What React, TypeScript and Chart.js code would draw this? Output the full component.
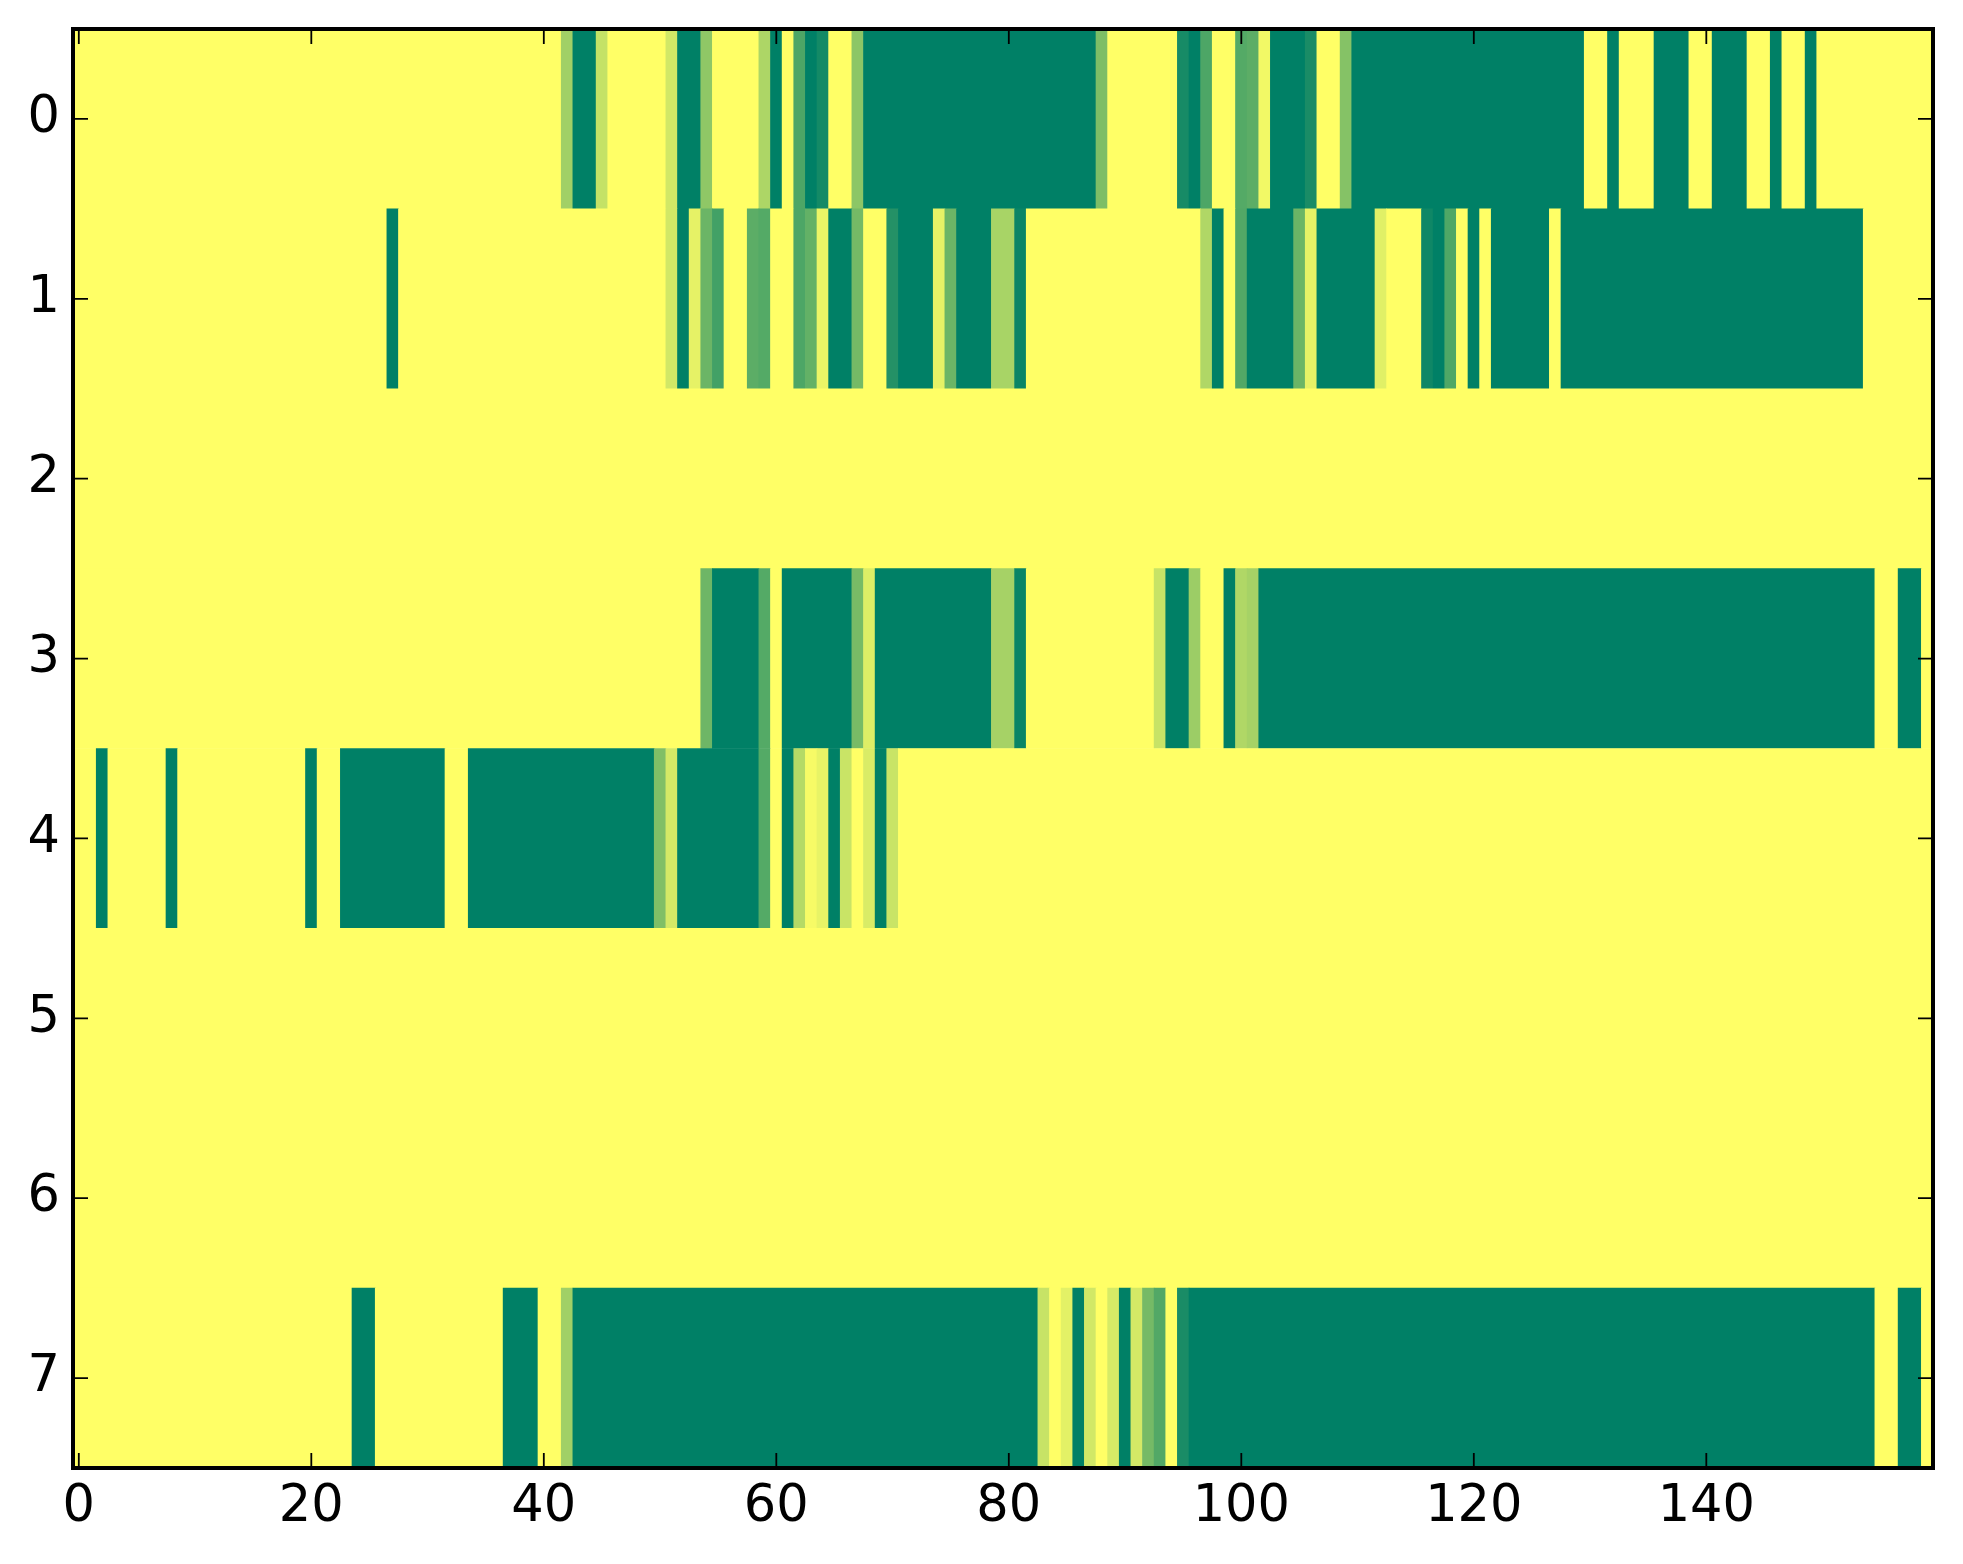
import React, { useEffect, useRef } from "react";
import { Chart, registerables } from "chart.js";

Chart.register(...registerables);

// Tick labels
const xTickValues = [0, 20, 40, 60, 80, 100, 120, 140];
const yTickValues = [0, 1, 2, 3, 4, 5, 6, 7];
const yTickLabels = ["0", "1", "2", "3", "4", "5", "6", "7"];

// Heatmap rows (160 columns each, values 0..1 mapped through the "summer" colormap)
const row0 = [
  1, 1, 1, 1, 1, 1, 1, 1, 1, 1, 1, 1, 1, 1, 1, 1, 1, 1, 1, 1,
  1, 1, 1, 1, 1, 1, 1, 1, 1, 1, 1, 1, 1, 1, 1, 1, 1, 1, 1, 1,
  1, 1, 0.63, 0, 0, 0.77, 1, 1, 1, 1, 1, 0.82, 0, 0, 0.56, 1, 1, 1, 1, 0.68,
  0, 1, 0.3, 0, 0.08, 1, 1, 0.55, 0, 0, 0, 0, 0, 0, 0, 0, 0, 0, 0, 0,
  0, 0, 0, 0, 0, 0, 0, 0, 0.49, 1, 1, 1, 1, 1, 1, 0.09, 0, 0.3, 1, 1,
  0.33, 0.36, 0.95, 0, 0, 0, 0.1, 1, 1, 0.52, 0, 0, 0, 0, 0, 0, 0, 0, 0, 0,
  0, 0, 0, 0, 0, 0, 0, 0, 0, 0, 1, 1, 0, 1, 1, 1, 0, 0, 0, 1,
  1, 0, 0, 0, 1, 1, 0, 1, 1, 0, 1, 1, 1, 1, 1, 1, 1, 1, 1, 1,
];
const row1 = [
  1, 1, 1, 1, 1, 1, 1, 1, 1, 1, 1, 1, 1, 1, 1, 1, 1, 1, 1, 1,
  1, 1, 1, 1, 1, 1, 1, 0, 1, 1, 1, 1, 1, 1, 1, 1, 1, 1, 1, 1,
  1, 1, 1, 1, 1, 1, 1, 1, 1, 1, 1, 0.82, 0, 0.9, 0.42, 0.26, 1, 1, 0.36, 0.33,
  1, 1, 0.3, 0.39, 0.92, 0, 0, 0.46, 1, 1, 0.14, 0, 0, 0, 0.9, 0.42, 0, 0, 0, 0.66,
  0.66, 0.04, 1, 1, 1, 1, 1, 1, 1, 1, 1, 1, 1, 1, 1, 1, 1, 0.69, 0, 1,
  0.32, 0, 0, 0, 0, 0.42, 0.9, 0, 0, 0, 0, 0, 0.88, 1, 1, 1, 0.06, 0, 0.31, 1,
  0, 1, 0, 0, 0, 0, 0, 1, 0, 0, 0, 0, 0, 0, 0, 0, 0, 0, 0, 0,
  0, 0, 0, 0, 0, 0, 0, 0, 0, 0, 0, 0, 0, 0, 1, 1, 1, 1, 1, 1,
];
const row2 = [
  1, 1, 1, 1, 1, 1, 1, 1, 1, 1, 1, 1, 1, 1, 1, 1, 1, 1, 1, 1,
  1, 1, 1, 1, 1, 1, 1, 1, 1, 1, 1, 1, 1, 1, 1, 1, 1, 1, 1, 1,
  1, 1, 1, 1, 1, 1, 1, 1, 1, 1, 1, 1, 1, 1, 1, 1, 1, 1, 1, 1,
  1, 1, 1, 1, 1, 1, 1, 1, 1, 1, 1, 1, 1, 1, 1, 1, 1, 1, 1, 1,
  1, 1, 1, 1, 1, 1, 1, 1, 1, 1, 1, 1, 1, 1, 1, 1, 1, 1, 1, 1,
  1, 1, 1, 1, 1, 1, 1, 1, 1, 1, 1, 1, 1, 1, 1, 1, 1, 1, 1, 1,
  1, 1, 1, 1, 1, 1, 1, 1, 1, 1, 1, 1, 1, 1, 1, 1, 1, 1, 1, 1,
  1, 1, 1, 1, 1, 1, 1, 1, 1, 1, 1, 1, 1, 1, 1, 1, 1, 1, 1, 1,
];
const row3 = [
  1, 1, 1, 1, 1, 1, 1, 1, 1, 1, 1, 1, 1, 1, 1, 1, 1, 1, 1, 1,
  1, 1, 1, 1, 1, 1, 1, 1, 1, 1, 1, 1, 1, 1, 1, 1, 1, 1, 1, 1,
  1, 1, 1, 1, 1, 1, 1, 1, 1, 1, 1, 1, 1, 1, 0.43, 0, 0, 0, 0, 0.33,
  1, 0, 0, 0, 0, 0, 0, 0.47, 0.87, 0, 0, 0, 0, 0, 0, 0, 0, 0, 0, 0.65,
  0.65, 0.04, 1, 1, 1, 1, 1, 1, 1, 1, 1, 1, 1, 0.78, 0, 0, 0.61, 1, 1, 0,
  0.69, 0.65, 0, 0, 0, 0, 0, 0, 0, 0, 0, 0, 0, 0, 0, 0, 0, 0, 0, 0,
  0, 0, 0, 0, 0, 0, 0, 0, 0, 0, 0, 0, 0, 0, 0, 0, 0, 0, 0, 0,
  0, 0, 0, 0, 0, 0, 0, 0, 0, 0, 0, 0, 0, 0, 0, 1, 1, 0, 0, 1,
];
const row4 = [
  1, 1, 0, 1, 1, 1, 1, 1, 0, 1, 1, 1, 1, 1, 1, 1, 1, 1, 1, 1,
  0, 1, 1, 0, 0, 0, 0, 0, 0, 0, 0, 0, 1, 1, 0, 0, 0, 0, 0, 0,
  0, 0, 0, 0, 0, 0, 0, 0, 0, 0, 0.5, 0.83, 0, 0, 0, 0, 0, 0, 0, 0.33,
  1, 0, 0.71, 0.97, 0.91, 0, 0.79, 1, 0.85, 0, 0.79, 1, 1, 1, 1, 1, 1, 1, 1, 1,
  1, 1, 1, 1, 1, 1, 1, 1, 1, 1, 1, 1, 1, 1, 1, 1, 1, 1, 1, 1,
  1, 1, 1, 1, 1, 1, 1, 1, 1, 1, 1, 1, 1, 1, 1, 1, 1, 1, 1, 1,
  1, 1, 1, 1, 1, 1, 1, 1, 1, 1, 1, 1, 1, 1, 1, 1, 1, 1, 1, 1,
  1, 1, 1, 1, 1, 1, 1, 1, 1, 1, 1, 1, 1, 1, 1, 1, 1, 1, 1, 1,
];
const row5 = [
  1, 1, 1, 1, 1, 1, 1, 1, 1, 1, 1, 1, 1, 1, 1, 1, 1, 1, 1, 1,
  1, 1, 1, 1, 1, 1, 1, 1, 1, 1, 1, 1, 1, 1, 1, 1, 1, 1, 1, 1,
  1, 1, 1, 1, 1, 1, 1, 1, 1, 1, 1, 1, 1, 1, 1, 1, 1, 1, 1, 1,
  1, 1, 1, 1, 1, 1, 1, 1, 1, 1, 1, 1, 1, 1, 1, 1, 1, 1, 1, 1,
  1, 1, 1, 1, 1, 1, 1, 1, 1, 1, 1, 1, 1, 1, 1, 1, 1, 1, 1, 1,
  1, 1, 1, 1, 1, 1, 1, 1, 1, 1, 1, 1, 1, 1, 1, 1, 1, 1, 1, 1,
  1, 1, 1, 1, 1, 1, 1, 1, 1, 1, 1, 1, 1, 1, 1, 1, 1, 1, 1, 1,
  1, 1, 1, 1, 1, 1, 1, 1, 1, 1, 1, 1, 1, 1, 1, 1, 1, 1, 1, 1,
];
const row6 = [
  1, 1, 1, 1, 1, 1, 1, 1, 1, 1, 1, 1, 1, 1, 1, 1, 1, 1, 1, 1,
  1, 1, 1, 1, 1, 1, 1, 1, 1, 1, 1, 1, 1, 1, 1, 1, 1, 1, 1, 1,
  1, 1, 1, 1, 1, 1, 1, 1, 1, 1, 1, 1, 1, 1, 1, 1, 1, 1, 1, 1,
  1, 1, 1, 1, 1, 1, 1, 1, 1, 1, 1, 1, 1, 1, 1, 1, 1, 1, 1, 1,
  1, 1, 1, 1, 1, 1, 1, 1, 1, 1, 1, 1, 1, 1, 1, 1, 1, 1, 1, 1,
  1, 1, 1, 1, 1, 1, 1, 1, 1, 1, 1, 1, 1, 1, 1, 1, 1, 1, 1, 1,
  1, 1, 1, 1, 1, 1, 1, 1, 1, 1, 1, 1, 1, 1, 1, 1, 1, 1, 1, 1,
  1, 1, 1, 1, 1, 1, 1, 1, 1, 1, 1, 1, 1, 1, 1, 1, 1, 1, 1, 1,
];
const row7 = [
  1, 1, 1, 1, 1, 1, 1, 1, 1, 1, 1, 1, 1, 1, 1, 1, 1, 1, 1, 1,
  1, 1, 1, 1, 0, 0, 1, 1, 1, 1, 1, 1, 1, 1, 1, 1, 1, 0, 0, 0,
  1, 1, 0.63, 0, 0, 0, 0, 0, 0, 0, 0, 0, 0, 0, 0, 0, 0, 0, 0, 0,
  0, 0, 0, 0, 0, 0, 0, 0, 0, 0, 0, 0, 0, 0, 0, 0, 0, 0, 0, 0,
  0, 0, 0, 0.78, 1, 0.89, 0, 0.82, 1, 0.84, 0, 0.83, 0.46, 0.32, 1, 0.1, 0, 0, 0, 0,
  0, 0, 0, 0, 0, 0, 0, 0, 0, 0, 0, 0, 0, 0, 0, 0, 0, 0, 0, 0,
  0, 0, 0, 0, 0, 0, 0, 0, 0, 0, 0, 0, 0, 0, 0, 0, 0, 0, 0, 0,
  0, 0, 0, 0, 0, 0, 0, 0, 0, 0, 0, 0, 0, 0, 0, 1, 1, 0, 0, 1,
];

const rows = [row0, row1, row2, row3, row4, row5, row6, row7];

// matplotlib "summer" colormap
function summer(v: number): string {
  const r = Math.round(255 * v);
  const g = Math.round(255 * (0.5 + 0.5 * v));
  return `rgb(${r}, ${g}, 102)`;
}

// merge runs of equal cells into floating bars (one bar per run)
function buildSegments() {
  const segs: { x: [number, number]; y: number; v: number }[] = [];
  rows.forEach((row, r) => {
    let start = 0;
    for (let c = 1; c <= row.length; c++) {
      if (c === row.length || row[c] !== row[start]) {
        segs.push({ x: [start - 0.5, c - 0.5], y: r, v: row[start] });
        start = c;
      }
    }
  });
  return segs;
}

const framePlugin = {
  id: "frameTicks",
  afterDatasetsDraw(chart: any) {
    const { ctx, chartArea: a, scales } = chart;
    const tl = 15;
    ctx.save();
    ctx.strokeStyle = "#000";
    ctx.lineWidth = 1.8;
    ctx.beginPath();
    xTickValues.forEach((v) => {
      const px = scales.x.getPixelForValue(v);
      ctx.moveTo(px, a.bottom);
      ctx.lineTo(px, a.bottom - tl);
      ctx.moveTo(px, a.top);
      ctx.lineTo(px, a.top + tl);
    });
    yTickValues.forEach((v) => {
      const py = scales.y.getPixelForValue(v);
      ctx.moveTo(a.left, py);
      ctx.lineTo(a.left + tl, py);
      ctx.moveTo(a.right, py);
      ctx.lineTo(a.right - tl, py);
    });
    ctx.stroke();
    ctx.lineWidth = 4;
    ctx.strokeRect(a.left, a.top, a.right - a.left, a.bottom - a.top);
    ctx.restore();
  },
};

export default function App() {
  const canvasRef = useRef<HTMLCanvasElement | null>(null);

  useEffect(() => {
    document.body.style.margin = "0";
    const canvas = canvasRef.current;
    if (!canvas) return;
    const font = { family: "DejaVu Sans", size: 51 };
    const chart = new Chart(canvas, {
      type: "bar",
      data: {
        datasets: [
          {
            data: buildSegments() as any,
            backgroundColor: (ctx: any) => summer(ctx.raw ? ctx.raw.v : 1),
            borderWidth: 0,
            barPercentage: 1,
            categoryPercentage: 1,
          },
        ],
      },
      options: {
        indexAxis: "y",
        animation: false,
        responsive: false,
        maintainAspectRatio: false,
        devicePixelRatio: 1,
        layout: { padding: { top: 29, right: 30, left: 0, bottom: 0 } },
        plugins: {
          legend: { display: false },
          tooltip: { enabled: false },
        },
        scales: {
          x: {
            type: "linear",
            position: "bottom",
            min: -0.5,
            max: 159.5,
            offset: false,
            grid: { display: false, drawTicks: false },
            border: { display: false },
            ticks: {
              font,
              color: "#000",
              padding: 9,
              maxRotation: 0,
              autoSkip: false,
            },
            afterBuildTicks: (s: any) => {
              s.ticks = xTickValues.map((v) => ({ value: v }));
            },
            afterFit: (s: any) => {
              s.height = 96;
              s.paddingLeft = 0;
              s.paddingRight = 0;
            },
          },
          y: {
            type: "linear",
            position: "left",
            min: -0.5,
            max: 7.5,
            reverse: true,
            offset: false,
            grid: { display: false, drawTicks: false },
            border: { display: false },
            ticks: {
              font,
              color: "#000",
              padding: 13,
              autoSkip: false,
              callback: (v: any) => yTickLabels[yTickValues.indexOf(Number(v))] ?? "",
            },
            afterBuildTicks: (s: any) => {
              s.ticks = yTickValues.map((v) => ({ value: v }));
            },
            afterFit: (s: any) => {
              s.width = 73;
              s.paddingTop = 0;
              s.paddingBottom = 0;
            },
          },
        },
      } as any,
      plugins: [framePlugin],
    });
    return () => chart.destroy();
  }, []);

  return (
    <div style={{ width: 1963, height: 1564, background: "#fff" }}>
      <canvas ref={canvasRef} width={1963} height={1564} style={{ display: "block" }} />
    </div>
  );
}
